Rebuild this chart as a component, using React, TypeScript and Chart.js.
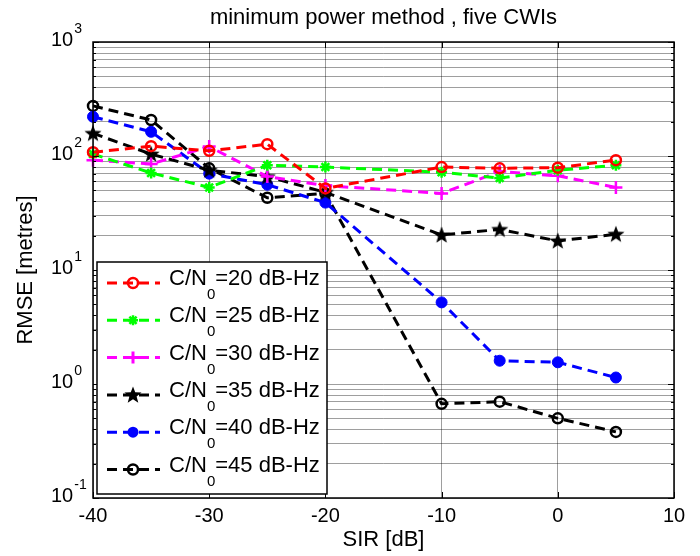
import React, { useEffect, useRef } from 'react';
import { Chart, registerables } from 'chart.js';

Chart.register(...registerables);

// ---------------- data ----------------
const sirValues = [-40, -35, -30, -25, -20, -10, -5, 0, 5];
const rmseCn20 = [108, 122, 111, 127, 52, 80, 78, 79, 92];
const rmseCn25 = [104, 71, 53, 83, 80, 72, 64, 75, 83];
const rmseCn30 = [92, 85, 121, 66, 55, 47, 73, 67, 53];
const rmseCn35 = [158, 104, 75, 66, 48, 20.3, 22.7, 18, 20.6];
const rmseCn40 = [221, 163, 70, 56, 39, 5.2, 1.6, 1.55, 1.14];
const rmseCn45 = [275, 207, 78, 43, 47, 0.67, 0.7, 0.5, 0.38];
const cnLevels = ['20', '25', '30', '35', '40', '45'];
const xTickValues = [-40, -30, -20, -10, 0, 10];
const yDecades = [-1, 0, 1, 2, 3];
const titleText = 'minimum power method , five CWIs';
const xLabelText = 'SIR [dB]';
const yLabelText = 'RMSE [metres]';

const allSeries = [rmseCn20, rmseCn25, rmseCn30, rmseCn35, rmseCn40, rmseCn45];

// ---------------- styles ----------------
const FONT = '"Liberation Sans", Arial, Helvetica, sans-serif';
const styles = [
  { color: '#ff0000', marker: 'ocircle' },
  { color: '#00ff00', marker: 'asterisk' },
  { color: '#ff00ff', marker: 'plus' },
  { color: '#000000', marker: 'pentagram' },
  { color: '#0000ff', marker: 'dot' },
  { color: '#000000', marker: 'ocircle' },
];

function drawPentagram(ctx: CanvasRenderingContext2D, cx: number, cy: number, R: number, color: string) {
  const r = R * 0.42;
  ctx.beginPath();
  for (let i = 0; i < 10; i++) {
    const rad = i % 2 === 0 ? R : r;
    const a = -Math.PI / 2 + (i * Math.PI) / 5;
    const px = cx + rad * Math.cos(a);
    const py = cy + rad * Math.sin(a);
    if (i === 0) ctx.moveTo(px, py);
    else ctx.lineTo(px, py);
  }
  ctx.closePath();
  ctx.fillStyle = color;
  ctx.fill();
}

function makePentagramCanvas(R: number, color: string) {
  const c = document.createElement('canvas');
  const s = Math.ceil(R * 2 + 4);
  c.width = s;
  c.height = s;
  const ctx = c.getContext('2d')!;
  drawPentagram(ctx, s / 2, s / 2 + 0.5, R, color);
  return c;
}

function drawMarker(ctx: CanvasRenderingContext2D, marker: string, color: string, x: number, y: number) {
  ctx.save();
  ctx.strokeStyle = color;
  ctx.fillStyle = color;
  ctx.setLineDash([]);
  if (marker === 'ocircle') {
    ctx.lineWidth = 2.5;
    ctx.beginPath();
    ctx.arc(x, y, 5, 0, Math.PI * 2);
    ctx.stroke();
  } else if (marker === 'dot') {
    ctx.beginPath();
    ctx.arc(x, y, 5.5, 0, Math.PI * 2);
    ctx.fill();
  } else if (marker === 'plus') {
    ctx.lineWidth = 3;
    ctx.beginPath();
    ctx.moveTo(x - 6, y);
    ctx.lineTo(x + 6, y);
    ctx.moveTo(x, y - 6);
    ctx.lineTo(x, y + 6);
    ctx.stroke();
  } else if (marker === 'asterisk') {
    ctx.lineWidth = 2.5;
    ctx.beginPath();
    const r = 5;
    ctx.moveTo(x - r, y);
    ctx.lineTo(x + r, y);
    ctx.moveTo(x, y - r);
    ctx.lineTo(x, y + r);
    const d = r * 0.72;
    ctx.moveTo(x - d, y - d);
    ctx.lineTo(x + d, y + d);
    ctx.moveTo(x - d, y + d);
    ctx.lineTo(x + d, y - d);
    ctx.stroke();
  } else if (marker === 'pentagram') {
    drawPentagram(ctx, x, y + 0.5, 9, color);
  }
  ctx.restore();
}

function buildYGrid(): number[] {
  const vals: number[] = [];
  for (let e = yDecades[0]; e < yDecades[yDecades.length - 1]; e++) {
    for (let m = 1; m < 10; m++) vals.push(m * Math.pow(10, e));
  }
  vals.push(Math.pow(10, yDecades[yDecades.length - 1]));
  return vals;
}
const yGridValues = buildYGrid();

const decorPlugin = {
  id: 'decor',
  afterDraw(chart: any) {
    const { ctx, chartArea: a, scales } = chart;
    const xs = scales.x;
    const ys = scales.y;
    ctx.save();

    // inward ticks (left/right and top/bottom)
    ctx.strokeStyle = '#000';
    ctx.lineWidth = 1;
    ctx.beginPath();
    yGridValues.forEach((v) => {
      const py = Math.round(ys.getPixelForValue(v)) + 0.5;
      const isMajor = Math.abs(Math.log10(v) - Math.round(Math.log10(v))) < 1e-9;
      const len = isMajor ? 6 : 3;
      ctx.moveTo(a.left, py);
      ctx.lineTo(a.left + len, py);
      ctx.moveTo(a.right, py);
      ctx.lineTo(a.right - len, py);
    });
    xTickValues.forEach((v) => {
      const px = Math.round(xs.getPixelForValue(v)) + 0.5;
      ctx.moveTo(px, a.bottom);
      ctx.lineTo(px, a.bottom - 6);
      ctx.moveTo(px, a.top);
      ctx.lineTo(px, a.top + 6);
    });
    ctx.stroke();

    // box
    ctx.lineWidth = 1.5;
    ctx.strokeRect(a.left, a.top, a.right - a.left, a.bottom - a.top);

    // y tick labels 10^n
    ctx.fillStyle = '#000';
    ctx.textBaseline = 'alphabetic';
    ctx.textAlign = 'left';
    yDecades.forEach((e) => {
      const py = ys.getPixelForValue(Math.pow(10, e));
      ctx.font = `20px ${FONT}`;
      ctx.fillText('10', 51, py + 4);
      const w = ctx.measureText('10').width;
      ctx.font = `14px ${FONT}`;
      ctx.fillText(String(e), 51 + w + 1, py - 9);
    });

    // title
    ctx.font = `22px ${FONT}`;
    ctx.textAlign = 'center';
    ctx.fillText(titleText, (a.left + a.right) / 2, 24);

    // x label
    ctx.font = `22px ${FONT}`;
    ctx.fillText(xLabelText, (a.left + a.right) / 2, 546);

    // y label
    ctx.save();
    ctx.translate(32, (a.top + a.bottom) / 2);
    ctx.rotate(-Math.PI / 2);
    ctx.textAlign = 'center';
    ctx.fillText(yLabelText, 0, 0);
    ctx.restore();

    // legend
    const lx = 97, ly = 262, lw = 230, lh = 232;
    ctx.fillStyle = '#fff';
    ctx.fillRect(lx, ly, lw, lh);
    ctx.strokeStyle = '#000';
    ctx.lineWidth = 1.5;
    ctx.strokeRect(lx, ly, lw, lh);
    cnLevels.forEach((lvl, i) => {
      const st = styles[i];
      const rowY = 283 + i * 37.3;
      ctx.save();
      ctx.strokeStyle = st.color;
      ctx.lineWidth = 3;
      ctx.setLineDash([10, 6]);
      ctx.beginPath();
      ctx.moveTo(107, rowY);
      ctx.lineTo(160, rowY);
      ctx.stroke();
      ctx.restore();
      drawMarker(ctx, st.marker, st.color, 133, rowY);
      ctx.fillStyle = '#000';
      ctx.textAlign = 'left';
      ctx.textBaseline = 'alphabetic';
      ctx.font = `22px ${FONT}`;
      let tx = 169;
      ctx.fillText('C/N', tx, rowY + 2);
      tx += ctx.measureText('C/N').width;
      ctx.font = `15px ${FONT}`;
      ctx.fillText('0', tx, rowY + 16);
      tx += ctx.measureText('0').width;
      ctx.font = `22px ${FONT}`;
      ctx.fillText(`=${lvl} dB-Hz`, tx, rowY + 2);
    });

    ctx.restore();
  },
};

export default function App() {
  const canvasRef = useRef<HTMLCanvasElement | null>(null);

  useEffect(() => {
    const canvas = canvasRef.current;
    if (!canvas) return;
    const pentagram = makePentagramCanvas(9, '#000000');
    const pointStyleFor = (m: string): any => {
      if (m === 'ocircle' || m === 'dot') return 'circle';
      if (m === 'plus') return 'cross';
      if (m === 'asterisk') return 'star';
      if (m === 'pentagram') return pentagram;
      return 'circle';
    };
    const datasets = allSeries.map((vals, i) => {
      const st = styles[i];
      return {
        label: `C/N0=${cnLevels[i]} dB-Hz`,
        data: sirValues.map((x, j) => ({ x, y: vals[j] })),
        borderColor: st.color,
        backgroundColor: st.marker === 'dot' ? st.color : 'rgba(0,0,0,0)',
        pointBorderColor: st.color,
        pointBackgroundColor: st.marker === 'dot' ? st.color : 'rgba(0,0,0,0)',
        borderWidth: 3,
        borderDash: [10, 6],
        pointStyle: pointStyleFor(st.marker),
        pointRadius: st.marker === 'dot' ? 5.5 : st.marker === 'asterisk' ? 5.5 : st.marker === 'plus' ? 6.5 : 5,
        pointBorderWidth: st.marker === 'dot' ? 1 : 2.5,
        tension: 0,
        clip: false as any,
        fill: false,
      };
    });

    const chart = new Chart(canvas, {
      type: 'line',
      data: { datasets },
      options: {
        responsive: false,
        animation: false,
        devicePixelRatio: 1,
        layout: { padding: { top: 42, right: 26, left: 0, bottom: 0 } },
        plugins: {
          legend: { display: false },
          title: { display: false },
          tooltip: { enabled: false },
        },
        scales: {
          x: {
            type: 'linear',
            min: -40,
            max: 10,
            afterBuildTicks: (scale: any) => {
              scale.ticks = xTickValues.map((v) => ({ value: v }));
            },
            afterFit: (scale: any) => {
              scale.height = 58;
            },
            border: { display: false },
            grid: { color: 'rgba(0,0,0,0.38)', lineWidth: 1, drawTicks: false },
            ticks: {
              color: '#000',
              font: { family: FONT, size: 20 },
              padding: 6,
              maxRotation: 0,
              autoSkip: false,
              callback: (v: any) => String(v),
            },
          },
          y: {
            type: 'logarithmic',
            min: 0.1,
            max: 1000,
            afterBuildTicks: (scale: any) => {
              scale.ticks = yGridValues.map((v) => ({ value: v }));
            },
            afterFit: (scale: any) => {
              scale.width = 93;
            },
            border: { display: false },
            grid: { color: 'rgba(0,0,0,0.38)', lineWidth: 1, drawTicks: false },
            ticks: { display: false, autoSkip: false },
          },
        },
      },
      plugins: [decorPlugin],
    } as any);
    return () => chart.destroy();
  }, []);

  return (
    <div style={{ position: 'absolute', left: 0, top: 0, width: 700, height: 556, background: '#fff' }}>
      <canvas ref={canvasRef} width={700} height={556} style={{ display: 'block', width: 700, height: 556 }} />
    </div>
  );
}
